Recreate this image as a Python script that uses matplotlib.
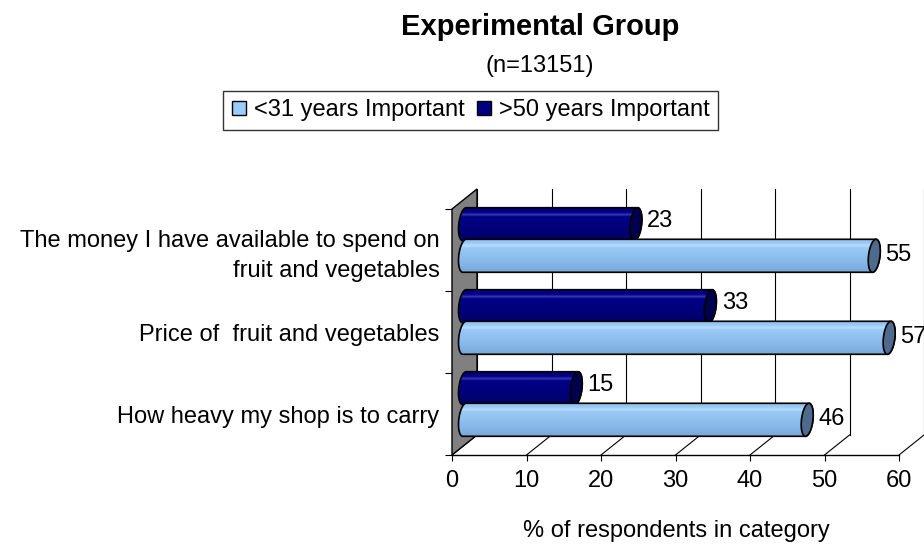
import numpy as np
import matplotlib
matplotlib.use('Agg')
import matplotlib.pyplot as plt
from matplotlib.patches import Polygon
from matplotlib.colors import LinearSegmentedColormap
from matplotlib.lines import Line2D

# ---------------- data ----------------
categories = ["How heavy my shop is to carry",
              "Price of  fruit and vegetables",
              "The money I have available to spend on\nfruit and vegetables"]
under31 = [46, 57, 55]
over50 = [15, 33, 23]
series_names = ["<31 years Important", ">50 years Important"]
xticks = [0, 10, 20, 30, 40, 50, 60]
title = "Experimental Group"
subtitle = "(n=13151)"
xlabel = "% of respondents in category"

# ---------------- style ----------------
plt.rcParams['font.family'] = ['Liberation Sans', 'DejaVu Sans']
FS = 17
light_cmap = LinearSegmentedColormap.from_list('light', [
    (0.0, '#78A8D8'), (0.3, '#86B8E8'), (0.55, '#92C2F0'), (0.74, '#9CCAF6'),
    (0.8, '#B6DDFF'), (0.88, '#9CCAF6'), (1.0, '#8EBEEE')])
dark_cmap = LinearSegmentedColormap.from_list('dark', [
    (0.0, '#000068'), (0.5, '#00007E'), (0.74, '#000088'),
    (0.8, '#3A3AB2'), (0.87, '#000088'), (1.0, '#000078')])
light_face = '#99CCFF'
dark_face = '#000080'
light_cap = '#4E6B8E'
dark_cap = '#00004C'

W, H = 924, 545
fig = plt.figure(figsize=(W / 100, H / 100), dpi=100)
px_x = 7.45      # pixels per value unit
px_y = 82.0      # pixels per category unit
x0_px, y0_px = 452, 455
XMAX, YMAX = 60, 3.35
ax = fig.add_axes([x0_px / W, (H - y0_px) / H, XMAX * px_x / W, YMAX * px_y / H])
ax.set_xlim(0, XMAX)
ax.set_ylim(0, YMAX)
for s in ax.spines.values():
    s.set_visible(False)
ax.patch.set_visible(False)

DX = 25 / px_x   # depth offset (value units)
DY = 20 / px_y   # depth offset (category units)
ncat = len(categories)

# back wall
wall = Polygon([(0, 0), (DX, DY), (DX, ncat + DY), (0, ncat)], closed=True,
               fc='#808080', ec='black', lw=1, clip_on=False, zorder=1)
ax.add_patch(wall)

# back gridlines & floor diagonals & baseline
for v in xticks:
    ax.plot([v + DX, v + DX], [DY, ncat + DY], color='black', lw=0.8,
            clip_on=False, zorder=0.5)
    ax.plot([v, v + DX], [0, DY], color='black', lw=0.8, clip_on=False, zorder=0.5)
ax.plot([0, xticks[-1]], [0, 0], color='black', lw=1, clip_on=False, zorder=2)

# ticks
ax.set_xticks(xticks)
ax.set_xticklabels([str(t) for t in xticks])
ax.tick_params(axis='x', direction='out', length=4.5, width=0.8, labelsize=FS, pad=6)
ax.set_yticks(np.arange(ncat + 1))
ax.set_yticklabels([''] * (ncat + 1))
ax.set_yticks(np.arange(ncat) + 0.5, minor=True)
ax.set_yticklabels(categories, minor=True, fontsize=FS, ha='right', linespacing=1.45)
ax.tick_params(axis='y', which='major', direction='out', length=5, width=0.8)
ax.tick_params(axis='y', which='minor', length=0, pad=9)


def cylinder(v, yc, h, cmap, cap_color, z):
    xs = DX / 2
    yc = yc + DY / 2
    ex, ey = 0.24 * DX, 0.24 * DY
    hh = h / 2
    t_top = np.arctan2(ey, hh)
    t_bot = t_top + np.pi

    def ell(cx, t):
        return np.column_stack([cx + ex * np.sin(t),
                                yc + hh * np.cos(t) + ey * np.sin(t)])

    right = ell(v + xs, np.linspace(t_top, t_bot, 60))
    left = ell(xs, np.linspace(t_bot, t_top + 2 * np.pi, 60))
    body_pts = np.vstack([right, left])
    body = Polygon(body_pts, closed=True, fc='none', ec='none', zorder=z)
    ax.add_patch(body)
    ymin, ymax = body_pts[:, 1].min(), body_pts[:, 1].max()
    xmin, xmax = body_pts[:, 0].min(), body_pts[:, 0].max()
    grad = np.linspace(0, 1, 256).reshape(-1, 1)
    im = ax.imshow(grad, cmap=cmap, origin='lower', aspect='auto',
                   extent=[xmin, xmax, ymin, ymax], zorder=z, interpolation='bilinear')
    im.set_clip_path(body)
    ax.add_patch(Polygon(body_pts, closed=True, fc='none', ec='black', lw=1.2, zorder=z + 0.1))
    cap = Polygon(ell(v + xs, np.linspace(0, 2 * np.pi, 80)), closed=True,
                  fc=cap_color, ec='black', lw=1.2, zorder=z + 0.2)
    ax.add_patch(cap)


bar_h = 0.385
for i in range(ncat - 1, -1, -1):
    z = 10 + (ncat - i) * 2
    yd = i + 0.5 + bar_h / 2
    yl = i + 0.5 - bar_h / 2
    cylinder(over50[i], yd, bar_h, dark_cmap, dark_cap, z)
    cylinder(under31[i], yl, bar_h, light_cmap, light_cap, z + 1)
    ax.text(over50[i] + 3.2, yd + DY / 2 + 0.04, str(over50[i]), ha='left',
            va='center', fontsize=FS, zorder=30, clip_on=False)
    ax.text(under31[i] + 3.2, yl + DY / 2 + 0.01, str(under31[i]), ha='left',
            va='center', fontsize=FS, zorder=30, clip_on=False)

# titles
fig.text(540 / W, 1 - 35 / H, title, ha='center', va='baseline', fontsize=21, fontweight='bold')
fig.text(540 / W, 1 - 72 / H, subtitle, ha='center', va='baseline', fontsize=FS)
fig.text(676 / W, 1 - 531 / H, xlabel, ha='center', va='center', fontsize=FS)

# legend
handles = [Line2D([], [], marker='s', ls='', mfc=light_face, mec='black', ms=10, mew=1),
           Line2D([], [], marker='s', ls='', mfc=dark_face, mec='black', ms=10, mew=1)]
leg = fig.legend(handles, series_names, loc='upper right', bbox_to_anchor=(718 / W, 1 - 91 / H),
                 ncol=2, frameon=True, fancybox=False, edgecolor='black', fontsize=FS,
                 handlelength=0.6, handletextpad=0.35, columnspacing=0.5, borderpad=0.35,
                 borderaxespad=0)
leg.get_frame().set_linewidth(1)

fig.savefig('out.png', dpi=100)
